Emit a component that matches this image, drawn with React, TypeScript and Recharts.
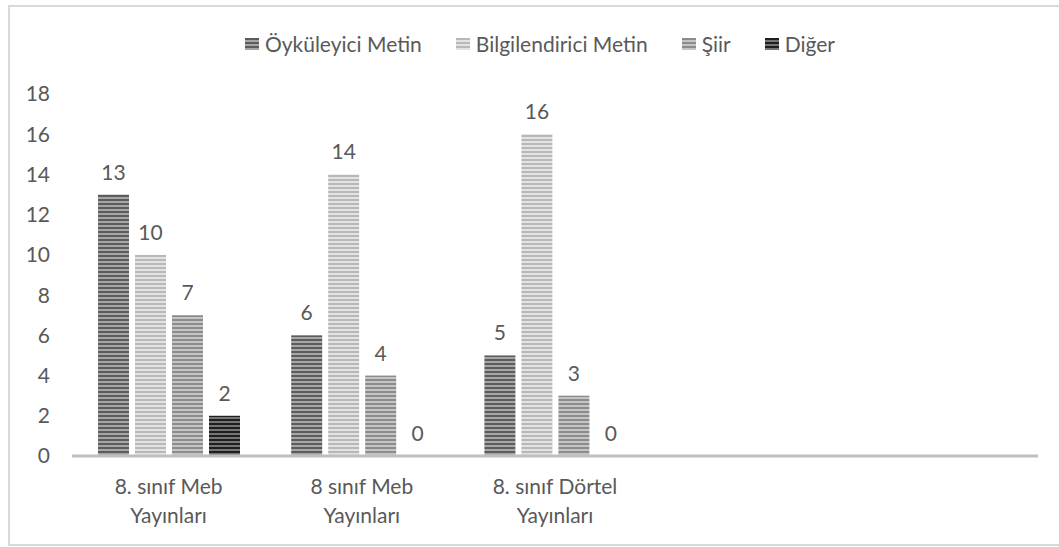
import React from 'react';
import { BarChart, Bar, XAxis, YAxis } from 'recharts';

const categories = ['8. sınıf Meb Yayınları', '8 sınıf Meb Yayınları', '8. sınıf Dörtel Yayınları', '', ''];
const oykuleyici = [13, 6, 5];
const bilgilendirici = [10, 14, 16];
const siir = [7, 4, 3];
const diger = [2, 0, 0];
const yTicks = [0, 2, 4, 6, 8, 10, 12, 14, 16, 18];

const data = categories.map((name, i) => ({
  name,
  oyk: oykuleyici[i],
  bil: bilgilendirici[i],
  siir: siir[i],
  dig: diger[i],
}));

const font = 'Lato, "Open Sans", sans-serif';
const textColor = '#595959';
const fontSize = 21;

const series = [
  { key: 'oyk', name: 'Öyküleyici Metin', id: 'pOyk', dark: '#5c5c5c', light: '#a6a6a6' },
  { key: 'bil', name: 'Bilgilendirici Metin', id: 'pBil', dark: '#b8b8b8', light: '#e2e2e2' },
  { key: 'siir', name: 'Şiir', id: 'pSiir', dark: '#8c8c8c', light: '#c4c4c4' },
  { key: 'dig', name: 'Diğer', id: 'pDig', dark: '#1e1e1e', light: '#767676' },
];

function CategoryTick(props: any) {
  const { x, y, payload } = props;
  const label: string = payload.value || '';
  if (!label) return null;
  const cut = label.lastIndexOf(' ');
  return (
    <text x={x} y={y} textAnchor="middle" fill={textColor} fontSize={fontSize} fontFamily={font}>
      <tspan x={x} dy={30}>{label.slice(0, cut)}</tspan>
      <tspan x={x} dy={29}>{label.slice(cut + 1)}</tspan>
    </text>
  );
}

// bar + value label drawn together so zero-height bars still get their "0"
function makeShape(dataKey: string) {
  return (props: any) => {
    const { x, y, width, height, fill, payload } = props;
    const v = payload ? payload[dataKey] : undefined;
    if (v == null) return <g />;
    return (
      <g>
        {height > 0 && <rect x={x} y={y} width={width} height={height} fill={fill} />}
        <text
          x={x + width / 2}
          y={y - 15}
          textAnchor="middle"
          fill={textColor}
          fontSize={fontSize}
          fontFamily={font}
        >
          {v}
        </text>
      </g>
    );
  };
}

function ChartLegend() {
  return (
    <div
      style={{
        position: 'absolute',
        left: 0,
        top: 24,
        width: 1060,
        display: 'flex',
        justifyContent: 'center',
        alignItems: 'center',
        gap: 34,
        fontFamily: font,
        fontSize,
        color: textColor,
        lineHeight: '26px',
      }}
    >
      {series.map((s) => (
        <div key={s.key} style={{ display: 'flex', alignItems: 'center', gap: 6 }}>
          <svg width={14} height={12}>
            <rect width={14} height={12} fill={`url(#${s.id})`} />
          </svg>
          <span>{s.name}</span>
        </div>
      ))}
    </div>
  );
}

export default function App() {
  return (
    <div
      style={{
        position: 'absolute',
        left: 8,
        top: 5,
        width: 1064,
        height: 541,
        border: '2px solid #d9d9d9',
        boxSizing: 'border-box',
        background: '#fff',
      }}
    >
      <BarChart
        width={1060}
        height={537}
        data={data}
        margin={{ top: 87, right: 32, bottom: 28, left: 0 }}
        barSize={31}
        barGap={6}
      >
        <defs>
          {series.map((s) => (
            <pattern key={s.id} id={s.id} patternUnits="userSpaceOnUse" width={4} height={4}>
              <rect x={0} y={0} width={4} height={4} fill={s.light} />
              <rect x={0} y={0} width={4} height={2} fill={s.dark} />
            </pattern>
          ))}
        </defs>
        <XAxis
          dataKey="name"
          axisLine={{ stroke: '#bfbfbf', strokeWidth: 3 }}
          tickLine={false}
          height={60}
          interval={0}
          tick={<CategoryTick />}
        />
        <YAxis
          domain={[0, 18]}
          ticks={yTicks}
          axisLine={false}
          tickLine={false}
          width={62}
          tickMargin={16}
          tick={{ fill: textColor, fontSize, fontFamily: font }}
        />
        {series.map((s) => (
          <Bar
            key={s.key}
            dataKey={s.key}
            name={s.name}
            fill={`url(#${s.id})`}
            shape={makeShape(s.key)}
            isAnimationActive={false}
          />
        ))}
      </BarChart>
      <ChartLegend />
    </div>
  );
}
